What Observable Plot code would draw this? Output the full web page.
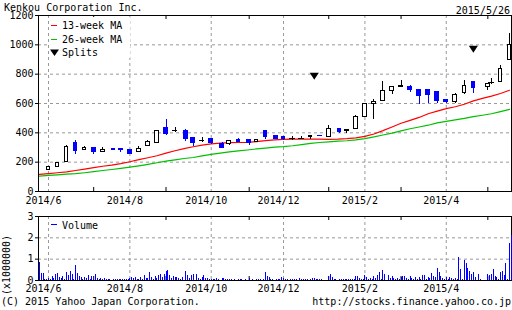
<!DOCTYPE html>
<html><head><meta charset="utf-8">
<script src="https://cdn.jsdelivr.net/npm/d3@7"></script>
<script src="https://cdn.jsdelivr.net/npm/@observablehq/plot@0.6"></script>
<style>
body{margin:0;background:#fff;}
#wrap{position:relative;width:512px;height:310px;overflow:hidden;}
#wrap svg{position:absolute;left:0;}
</style></head><body><div id="wrap"></div>
<script>
// ---- data ----
const title = "Kenkou Corporation Inc.";
const asOf = "2015/5/26";
// first trading day of each weekly candle
const weekDates = ["2014-06-02","2014-06-09","2014-06-16","2014-06-23","2014-06-30","2014-07-07","2014-07-14","2014-07-22","2014-07-28","2014-08-04","2014-08-11","2014-08-18","2014-08-25","2014-09-01","2014-09-08","2014-09-16","2014-09-22","2014-09-29","2014-10-06","2014-10-14","2014-10-20","2014-10-27","2014-11-04","2014-11-10","2014-11-17","2014-11-25","2014-12-01","2014-12-08","2014-12-15","2014-12-22","2014-12-29","2015-01-05","2015-01-13","2015-01-19","2015-01-26","2015-02-02","2015-02-09","2015-02-16","2015-02-23","2015-03-02","2015-03-09","2015-03-16","2015-03-23","2015-03-30","2015-04-06","2015-04-13","2015-04-20","2015-04-27","2015-05-07","2015-05-11","2015-05-18","2015-05-25"];
const open  = [150,170,201,328,284,300,266,289,289,282,270,309,332,431,414,414,362,350,357,321,321,350,350,335,410,378,371,360,362,370,380,373,426,412,424,511,596,614,683,713,715,694,694,676,625,607,671,744,713,744,744,895];
const high  = [170,198,316,346,309,302,300,290,290,284,304,350,412,488,438,426,364,369,360,335,344,362,352,352,412,379,373,378,375,380,381,447,430,426,515,598,625,751,715,758,724,697,697,678,630,665,758,751,737,768,859,1080];
const low   = [145,168,200,252,277,254,264,280,268,252,263,305,330,380,401,339,309,332,320,296,312,333,314,333,357,355,350,350,355,357,375,370,395,395,420,505,488,612,664,710,676,596,603,598,603,603,660,671,690,728,740,890];
const close = [165,197,304,277,300,270,282,282,280,259,293,337,410,394,414,355,328,350,328,298,342,335,328,350,373,357,355,360,362,376,376,424,403,420,511,596,612,683,713,720,694,648,660,614,607,660,722,706,735,744,836,998];
// moving averages, weeks -1 .. 51
const ma13 = [117,122,128,134,143,153,163,172,180,190,203,217,230,244,262,278,292,305,316,325,330,333,334,335,340,347,352,355,357,357,358,357,356,357,360,366,376,392,415,440,465,485,505,530,548,565,578,595,618,635,650,668,690];
const ma26 = [105,110,114,118,122,128,135,143,150,158,166,175,185,196,207,216,225,232,243,253,262,270,277,283,290,296,302,306,312,320,328,334,339,343,346,352,361,372,385,398,413,428,440,452,468,478,488,498,510,520,530,545,560];
// daily volume (x1,000,000), weeks -1 .. 51, Mon..Fri
const volume = [
[0.86,0.34,0.34,0.04,0.04],[0.1,0.06,0.2,0.08,0.3],[0.34,0.15,0.1,0.18,0.05],[0.38,0.25,0.4,0.3,0.05],
[0.68,0.35,0.2,0.12,0.05],[0.12,0.1,0.22,0.05,0.17],[0.05,0.3,0.08,0.05,0.08],[0.05,0.08,0.05,0.03,0.05],
[0,0.05,0.03,0.05,0.04],[0.05,0.03,0.04,0.05,0.06],[0.1,0.12,0.08,0.15,0.05],[0.05,0.15,0.05,0.22,0.08],
[0.1,0.37,0.15,0.05,0.2],[0.08,0.25,0.3,0.12,0.3],[0.4,0.45,0.25,0.1,0.2],[0.12,0.15,0.08,0.05,0.15],
[0,0.43,0.25,0.1,0.23],[0.3,0,0.3,0.08,0.05],[0.15,0.22,0.08,0.1,0.04],[0.07,0.04,0.07,0.1,0.03],
[0,0.1,0.1,0.04,0.03],[0.07,0.04,0.02,0.03,0.02],[0.07,0.03,0.07,0.02,0.03],[0,0.1,0.02,0.03,0.02],
[0.07,0.07,0.03,0.02,0.03],[0.38,0.2,0.12,0.03,0.03],[0,0.07,0.05,0.03,0.15],[0.1,0.05,0.03,0.02,0.03],
[0.05,0.05,0.03,0.02,0.1],[0.03,0.05,0.03,0.05,0.02],[0.03,0.1,0.1,0.05,0.03],[0.07,0.05,0,0,0],
[0.18,0.3,0.15,0.05,0.04],[0,0.07,0.07,0.03,0.03],[0.05,0.03,0.07,0.03,0.04],[0.19,0.19,0.11,0.04,0.03],
[0.22,0.14,0.04,0.11,0.03],[0.19,0.11,0.25,0.37,0.05],[0.47,0.28,0,0.23,0.1],[0.19,0.1,0.04,0.1,0.03],
[0.12,0.17,0.19,0.1,0.04],[0.19,0.1,0.05,0.12,0.04],[0.16,0.05,0.23,0.23,0.04],[0.12,0.1,0.33,0.19,0.12],
[0.56,0.37,0.19,0.11,0.05],[0.12,0.05,0.12,0.11,0.04],[0.1,0.04,1.08,0.52,0.05],[0.92,0.81,0.56,0.4,0.3],
[0.37,0.14,0,0.28,0.05],[0,0,0,0.28,0.22],[0.28,0.52,0.17,0.12,0.04],[0.37,0.4,0.22,0.8,0.05],
[1.73,2.12]
];
const splitDates = ["2014-12-24","2015-04-27"];
const splitLevel = [785, 970];
const priceTicks = [0,200,400,600,800,1000,1200];
const volTicks = [0,1,2,3];

// ---- helpers ----
const FONT = '"DejaVu Sans Mono", monospace';
const BLUE = "#0000ff", RED = "#ff0000", GREEN = "#00c000", GRID = "#999";
const base = Date.UTC(2014,5,2);
function toX(s){
  const [y,m,d] = s.split("-").map(Number);
  const days = Math.round((Date.UTC(y,m-1,d) - base)/864e5);
  const w = Math.floor(days/7);
  return w + (days - 7*w)/5;
}
const xDomain = [-1.106, 51.217];

const candles = weekDates.map((s,i)=>({x: toX(s), o: open[i], h: high[i], l: low[i], c: close[i]}));
const upC = candles.filter(d => d.c > d.o);
const downC = candles.filter(d => d.c < d.o);
const dojiC = candles.filter(d => d.c === d.o);
const maData = ma13.map((v,i)=>({x: i-1, ma13: v, ma26: ma26[i]}));
const volData = [];
volume.forEach((wk,wi)=>wk.forEach((v,d)=>{ if (v > 0) volData.push({x: (wi-1) + d/5, v}); }));
const splits = splitDates.map((s,i)=>({x: toX(s), y: splitLevel[i]}));

const months = [];
weekDates.forEach((s,i)=>{
  const m = s.slice(0,7);
  if (i === 0 || weekDates[i-1].slice(0,7) !== m)
    months.push({x: toX(s), label: `${+s.slice(0,4)}/${+s.slice(5,7)}`, even: (+s.slice(5,7)) % 2 === 0});
});
const evenX = months.filter(d=>d.even).map(d=>d.x);
const oddX = months.filter(d=>!d.even).map(d=>d.x);
const labelOf = new Map(months.map(d=>[d.x, d.label]));

const triDown = {draw(ctx, size){ const r = Math.sqrt(size/Math.PI); ctx.moveTo(-1.3*r,-r); ctx.lineTo(1.3*r,-r); ctx.lineTo(0,r); ctx.closePath(); }};

const style = {fontFamily: FONT, fontSize: "10px", color: "black", background: "transparent", overflow: "visible"};
const dashed = {stroke: GRID, strokeOpacity: 1, strokeDasharray: "3,3"};

function frameMarks(ymax, gridYs, yTicks, labelPad){
  return [
    Plot.gridY(gridYs, dashed),
    Plot.gridX(evenX, dashed),
    Plot.ruleX(oddX, {y1: ymax, y2: ymax, insetBottom: -4}),
    Plot.ruleX(oddX, {y1: 0, y2: 0, insetTop: -4}),
    Plot.axisY(yTicks, {tickSize: 3, tickPadding: 2, label: null, tickFormat: d => String(d)}),
    Plot.axisX(evenX, {tickSize: 0, tickPadding: labelPad, dx: -5, label: null, tickFormat: v => labelOf.get(v)})
  ];
}

const main = Plot.plot({
  width: 512, height: 206, marginLeft: 38, marginRight: 1, marginTop: 15, marginBottom: 15,
  style,
  x: {domain: xDomain, label: null},
  y: {domain: [0,1200], label: null},
  marks: [
    ...frameMarks(1200, [200,400,600,800,1000], priceTicks, 5),
    Plot.line(maData, {x: "x", y: "ma26", stroke: GREEN, strokeWidth: 1.2}),
    Plot.line(maData, {x: "x", y: "ma13", stroke: RED, strokeWidth: 1.2}),
    Plot.ruleX(upC, {x: "x", y1: "l", y2: "h", stroke: "black", shapeRendering: "crispEdges"}),
    Plot.ruleX(dojiC, {x: "x", y1: "l", y2: "h", stroke: "black", shapeRendering: "crispEdges"}),
    Plot.ruleX(downC, {x: "x", y1: "l", y2: "h", stroke: BLUE, shapeRendering: "crispEdges"}),
    Plot.rect(upC, {x1: d => d.x - 0.2, x2: d => d.x + 0.2, y1: "o", y2: "c", fill: "white", stroke: "black", shapeRendering: "crispEdges"}),
    Plot.rect(downC, {x1: d => d.x - 0.2, x2: d => d.x + 0.2, y1: "o", y2: "c", fill: BLUE, stroke: BLUE, shapeRendering: "crispEdges"}),
    Plot.ruleY(dojiC, {x1: d => d.x - 0.3, x2: d => d.x + 0.3, y: "o", stroke: "black", shapeRendering: "crispEdges"}),
    Plot.dot(splits, {x: "x", y: "y", symbol: triDown, r: 3.5, fill: "black", stroke: null}),
    Plot.frame({stroke: "black"})
  ]
});
main.style.top = "0px";

const vol = Plot.plot({
  width: 512, height: 104, marginLeft: 38, marginRight: 1, marginTop: 10, marginBottom: 30,
  style,
  x: {domain: xDomain, label: null},
  y: {domain: [0,3], label: null},
  marks: [
    ...frameMarks(3, [1,2], volTicks, 4),
    Plot.frame({stroke: "black"}),
    Plot.ruleX(volData, {x: "x", y1: 0, y2: "v", stroke: BLUE, shapeRendering: "crispEdges"})
  ]
});
vol.style.top = "206px";

const wrap = document.getElementById("wrap");
wrap.appendChild(main);
wrap.appendChild(vol);

// overlay: titles, legends, credits
const svg = d3.create("svg").attr("width", 512).attr("height", 310)
  .style("top", "0px").style("font-family", FONT).style("font-size", "10px");
svg.append("text").attr("x", 4).attr("y", 11).text(title);
svg.append("text").attr("x", 510).attr("y", 14).attr("text-anchor", "end").text(asOf);
// main legend
svg.append("rect").attr("x", 49).attr("y", 17).attr("width", 81).attr("height", 41).attr("fill", "white");
svg.append("line").attr("x1", 51).attr("x2", 57).attr("y1", 25.5).attr("y2", 25.5).attr("stroke", RED);
svg.append("text").attr("x", 62).attr("y", 29).text("13-week MA");
svg.append("line").attr("x1", 51).attr("x2", 57).attr("y1", 39.5).attr("y2", 39.5).attr("stroke", GREEN);
svg.append("text").attr("x", 62).attr("y", 43).text("26-week MA");
svg.append("path").attr("d", "M50,49.5L59,49.5L54.5,56Z").attr("fill", "black");
svg.append("text").attr("x", 62).attr("y", 55.5).text("Splits");
// volume legend
svg.append("rect").attr("x", 49).attr("y", 217).attr("width", 50).attr("height", 13).attr("fill", "white");
svg.append("line").attr("x1", 51).attr("x2", 57).attr("y1", 224.5).attr("y2", 224.5).attr("stroke", BLUE);
svg.append("text").attr("x", 62).attr("y", 228.5).text("Volume");
svg.append("text").attr("transform", "translate(10,265) rotate(-90)").attr("text-anchor", "middle").text("(x1000000)");
svg.append("text").attr("x", 1).attr("y", 304.5).text("(C) 2015 Yahoo Japan Corporation.");
svg.append("text").attr("x", 511).attr("y", 304.5).attr("text-anchor", "end").text("http://stocks.finance.yahoo.co.jp");
wrap.appendChild(svg.node());
</script></body></html>
